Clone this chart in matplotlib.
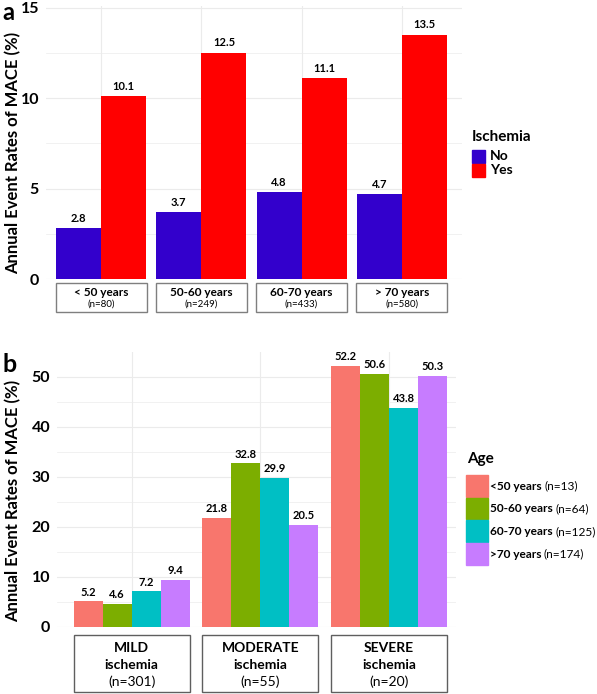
import matplotlib
matplotlib.use("Agg")
import matplotlib.pyplot as plt
from matplotlib.patches import Rectangle
from matplotlib.transforms import blended_transform_factory
import numpy as np

plt.rcParams['font.family'] = ['Lato', 'DejaVu Sans']

# panel a data
age_groups_a = ['< 50 years', '50-60 years', '60-70 years', '> 70 years']
age_n_a = ['(n=80)', '(n=249)', '(n=433)', '(n=580)']
isch_no = [2.8, 3.7, 4.8, 4.7]
isch_yes = [10.1, 12.5, 11.1, 13.5]
isch_labels = ['No', 'Yes']

# panel b data
severity = ['MILD', 'MODERATE', 'SEVERE']
severity_n = ['(n=301)', '(n=55)', '(n=20)']
age_labels_b = ['<50 years', '50-60 years', '60-70 years', '>70 years']
age_n_b = ['(n=13)', '(n=64)', '(n=125)', '(n=174)']
rates_b = [
    [5.2, 21.8, 52.2],   # <50
    [4.6, 32.8, 50.6],   # 50-60
    [7.2, 29.9, 43.8],   # 60-70
    [9.4, 20.5, 50.3],   # >70
]

colors_a = ['#3300CC', '#FF0000']
colors_b = ['#F8766D', '#7CAE00', '#00BFC4', '#C77CFF']
grid_col = '#EBEBEB'

W, H = 597, 694
fig = plt.figure(figsize=(W / 100, H / 100), dpi=100)


def px_axes(l, t, r, b):
    return fig.add_axes([l / W, 1 - b / H, (r - l) / W, (b - t) / H])


def fx(px):
    return px / W


def fy(py):
    return 1 - py / H


def style(ax, major, minor):
    for s in ax.spines.values():
        s.set_visible(False)
    ax.set_yticks(major)
    ax.set_yticks(minor, minor=True)
    ax.tick_params(axis='y', which='both', length=0, labelsize=11.5, pad=5)
    ax.tick_params(axis='x', length=0, labelbottom=False)
    for lab in ax.get_yticklabels():
        lab.set_fontweight('bold')
    ax.grid(True, which='major', color=grid_col, lw=0.8)
    ax.grid(True, which='minor', axis='y', color=grid_col, lw=0.5)
    ax.set_axisbelow(True)
    ax.set_ylabel('Annual Event Rates of MACE (%)', fontsize=12,
                  fontweight='bold')


# ---------------- panel a ----------------
A_L, A_T, A_R, A_B = 46, 6, 462, 279
ax = px_axes(A_L, A_T, A_R, A_B)
x = np.arange(len(age_groups_a))
w = 0.45
bn = ax.bar(x - w / 2, isch_no, w, color=colors_a[0])
by = ax.bar(x + w / 2, isch_yes, w, color=colors_a[1])
for bars in (bn, by):
    for r in bars:
        ax.text(r.get_x() + r.get_width() / 2, r.get_height() + 0.25,
                f'{r.get_height():.1f}', ha='center', va='bottom',
                fontsize=8, fontweight='bold')
ax.set_xlim(-0.55, 3.6)
ax.set_ylim(0, 15.1)
ax.set_xticks(x)
style(ax, [0, 5, 10, 15], [2.5, 7.5, 12.5])
ax.yaxis.set_label_coords((21 - A_L) / (A_R - A_L),
                          1 - (153 - A_T) / (A_B - A_T))

tr = blended_transform_factory(ax.transData, ax.transAxes)
ha_px = A_B - A_T
for i in range(len(x)):
    y0 = -33 / ha_px
    ax.add_patch(Rectangle((i - 0.455, y0), 0.91, 29 / ha_px, transform=tr,
                           facecolor='white', edgecolor='#7F7F7F', lw=1,
                           clip_on=False))
    ax.text(i, y0 + 20 / ha_px, age_groups_a[i], transform=tr, ha='center',
            va='center', fontsize=8.5, fontweight='bold')
    ax.text(i, y0 + 8 / ha_px, age_n_a[i], transform=tr, ha='center',
            va='center', fontsize=7)

# legend a (drawn by hand)
fig.text(fx(472), fy(137), 'Ischemia', fontsize=11, fontweight='bold',
         va='center', ha='left')
for k, (c, lab) in enumerate(zip(colors_a, isch_labels)):
    top = 150 + k * 14
    fig.patches.append(Rectangle((fx(472), fy(top + 13)), 13 / W, 13 / H,
                                 transform=fig.transFigure, color=c))
    fig.text(fx(490), fy(top + 6.5), lab, fontsize=10, fontweight='bold',
             va='center', ha='left')

fig.text(fx(2), fy(0.5), 'a', fontsize=17, fontweight='bold',
         va='top', ha='left')

# ---------------- panel b ----------------
B_L, B_T, B_R, B_B = 57, 352, 456, 627
ax2 = px_axes(B_L, B_T, B_R, B_B)
xb = np.arange(len(severity))
wb = 0.225
for k in range(len(age_labels_b)):
    bars = ax2.bar(xb + (k - 1.5) * wb, rates_b[k], wb, color=colors_b[k])
    for r in bars:
        ax2.text(r.get_x() + r.get_width() / 2, r.get_height() + 0.7,
                 f'{r.get_height():.1f}', ha='center', va='bottom',
                 fontsize=8, fontweight='bold')
ax2.set_xlim(-0.58, 2.52)
ax2.set_ylim(0, 55)
ax2.set_xticks(xb)
style(ax2, [0, 10, 20, 30, 40, 50], [5, 15, 25, 35, 45])
ax2.yaxis.set_label_coords((21 - B_L) / (B_R - B_L),
                           1 - (501 - B_T) / (B_B - B_T))

tr2 = blended_transform_factory(ax2.transData, ax2.transAxes)
hb_px = B_B - B_T
for i in range(len(xb)):
    y0 = -65 / hb_px
    ax2.add_patch(Rectangle((i - 0.45, y0), 0.9, 57 / hb_px, transform=tr2,
                            facecolor='white', edgecolor='#5F5F5F', lw=1,
                            clip_on=False))
    ax2.text(i, y0 + 44 / hb_px, severity[i], transform=tr2, ha='center',
             va='center', fontsize=10, fontweight='bold')
    ax2.text(i, y0 + 27 / hb_px, 'ischemia', transform=tr2, ha='center',
             va='center', fontsize=10, fontweight='bold')
    ax2.text(i, y0 + 10 / hb_px, severity_n[i], transform=tr2, ha='center',
             va='center', fontsize=10)

# legend b (drawn by hand, mixed weights)
fig.text(fx(467), fy(459), 'Age', fontsize=11, fontweight='bold',
         va='center', ha='left')
fig.canvas.draw()
renderer = fig.canvas.get_renderer()
for k, (c, lab, n) in enumerate(zip(colors_b, age_labels_b, age_n_b)):
    top = 475 + k * 22.7
    fig.patches.append(Rectangle((fx(466), fy(top + 21.5)), 21.5 / W, 21.5 / H,
                                 transform=fig.transFigure, color=c))
    t = fig.text(fx(490), fy(top + 11), lab, fontsize=8.6, fontweight='bold',
                 va='center', ha='left')
    bb = t.get_window_extent(renderer)
    fig.text(bb.x1 / (fig.get_figwidth() * fig.dpi) + 2.5 / W, fy(top + 11), n,
             fontsize=8.6, va='center', ha='left')

fig.text(fx(3), fy(372), 'b', fontsize=18, fontweight='bold',
         va='baseline', ha='left')

fig.savefig('out.png', dpi=100)
